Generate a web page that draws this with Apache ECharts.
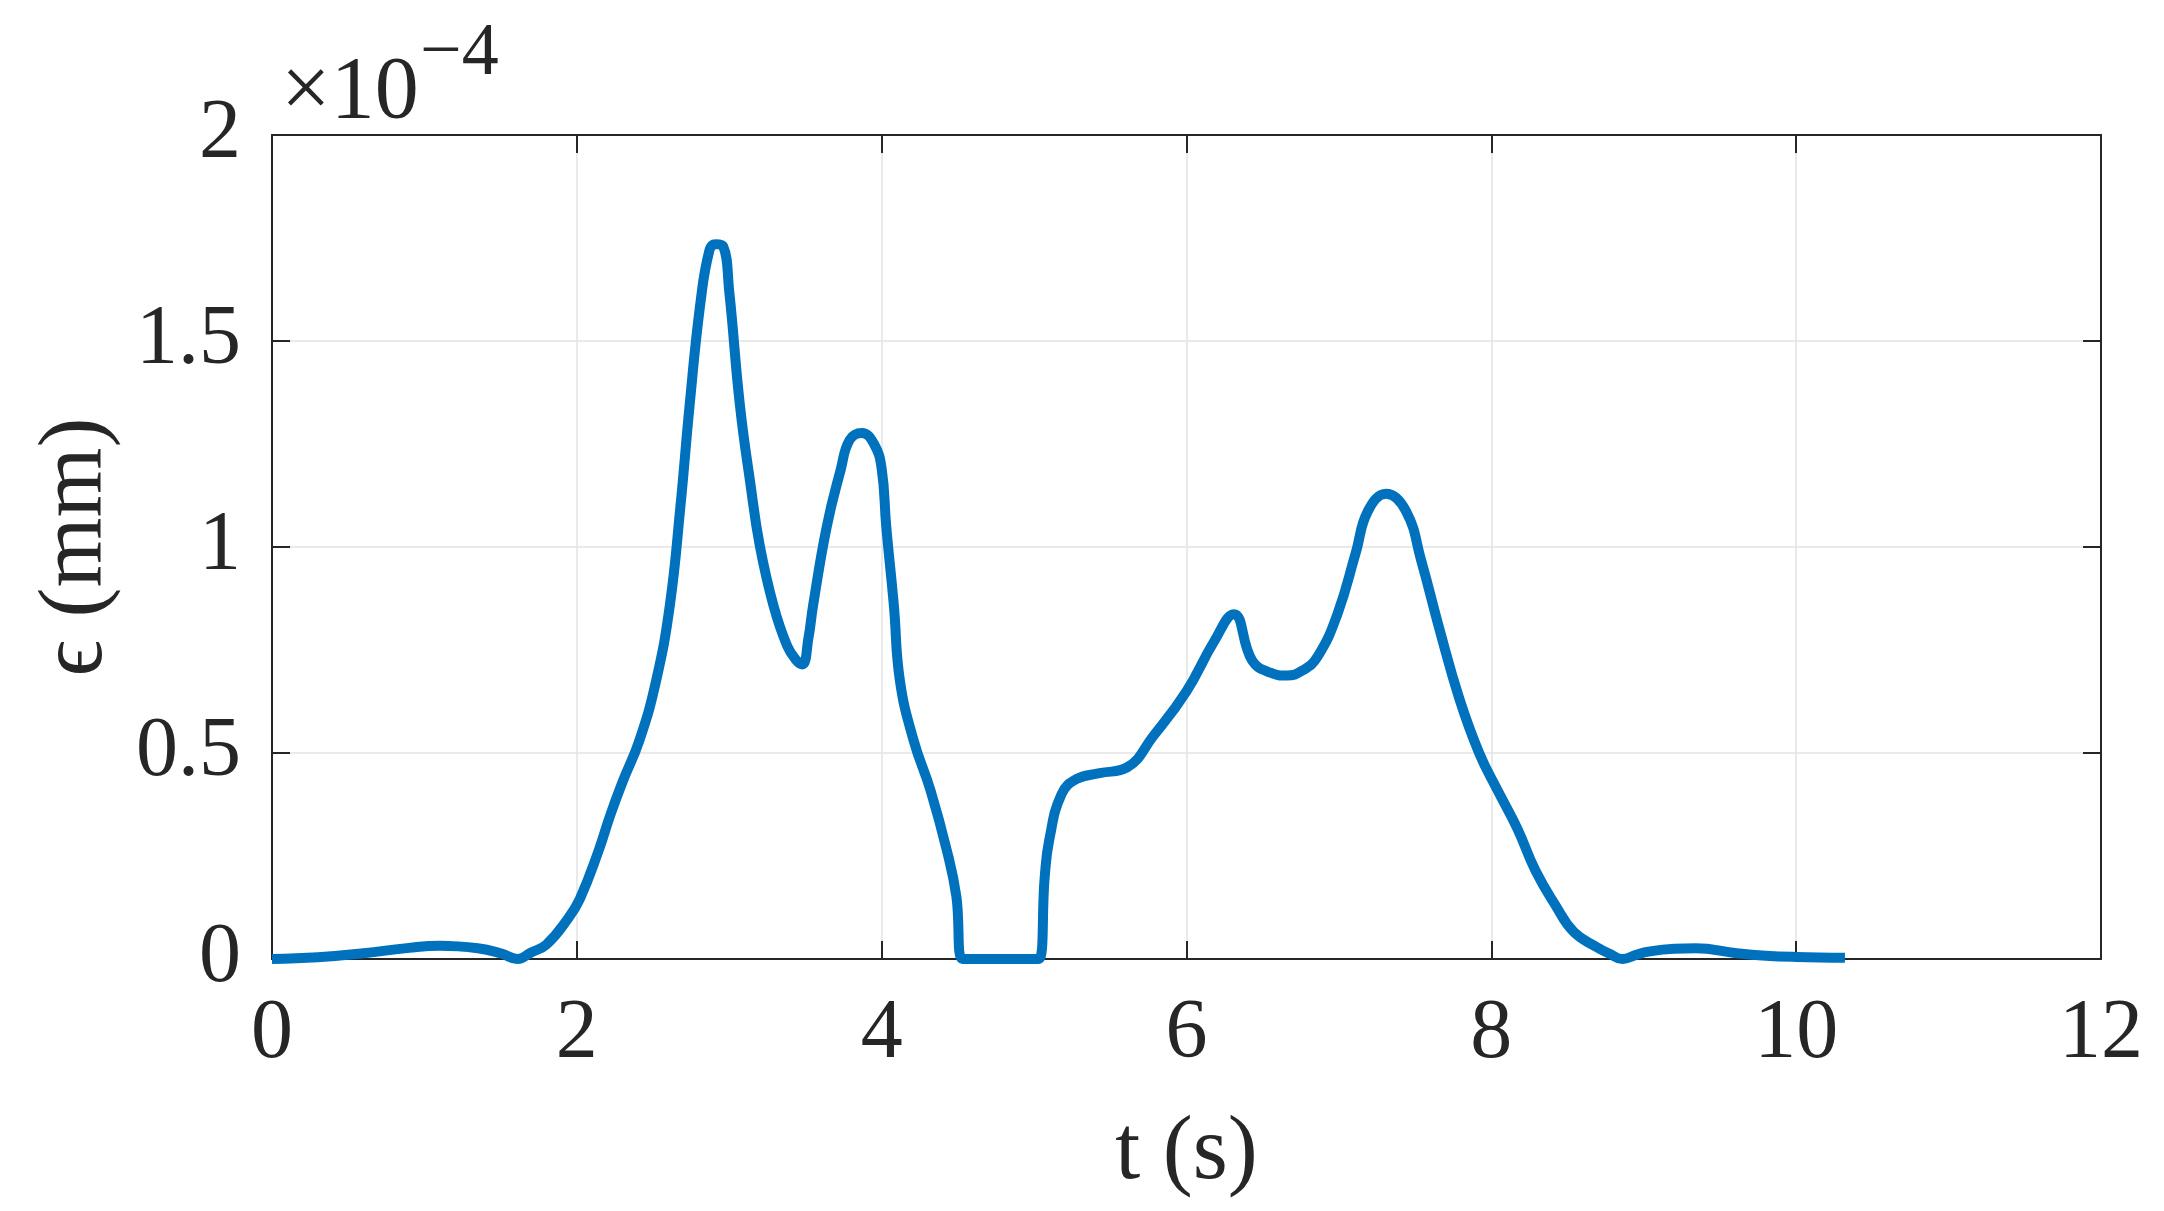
<!DOCTYPE html>
<html>
<head>
<meta charset="utf-8">
<script src="https://cdn.jsdelivr.net/npm/echarts@6/dist/echarts.min.js"></script>
<style>
html,body{margin:0;padding:0;background:#fff;}
#chart{width:2164px;height:1211px;}
</style>
</head>
<body>
<div id="chart"></div>
<script>
// time (s)
const tValues = [0, 0.3, 0.6, 0.9, 1.1, 1.35, 1.5, 1.61, 1.7, 1.8, 1.94, 2.02, 2.14, 2.22, 2.3, 2.41, 2.52, 2.61, 2.68, 2.74, 2.81, 2.87, 2.91, 2.96, 3.0, 3.07, 3.14, 3.2, 3.29, 3.38, 3.44, 3.48, 3.52, 3.55, 3.64, 3.73, 3.79, 3.87, 3.95, 4.0, 4.03, 4.08, 4.12, 4.21, 4.32, 4.43, 4.49, 4.53, 4.7, 4.9, 5.03, 5.07, 5.1, 5.18, 5.28, 5.43, 5.61, 5.78, 6.0, 6.18, 6.31, 6.43, 6.55, 6.66, 6.76, 6.86, 6.99, 7.11, 7.19, 7.31, 7.44, 7.54, 7.66, 7.79, 7.92, 8.04, 8.17, 8.29, 8.42, 8.54, 8.69, 8.78, 8.86, 8.95, 9.03, 9.2, 9.34, 9.61, 9.8, 10.0, 10.32];
// epsilon (mm), in units of 1e-4
const epsValues = [0, 0.004, 0.014, 0.027, 0.032, 0.026, 0.014, 0, 0.016, 0.035, 0.097, 0.146, 0.26, 0.35, 0.43, 0.53, 0.675, 0.858, 1.10, 1.344, 1.59, 1.72, 1.735, 1.73, 1.62, 1.344, 1.15, 1.004, 0.858, 0.76, 0.725, 0.715, 0.78, 0.858, 1.05, 1.186, 1.26, 1.277, 1.25, 1.19, 1.05, 0.858, 0.675, 0.53, 0.41, 0.26, 0.152, 0, 0, 0, 0, 0.2, 0.29, 0.40, 0.437, 0.451, 0.465, 0.54, 0.65, 0.77, 0.837, 0.725, 0.695, 0.688, 0.70, 0.734, 0.837, 0.985, 1.087, 1.129, 1.087, 0.967, 0.80, 0.632, 0.50, 0.41, 0.317, 0.214, 0.131, 0.066, 0.029, 0.012, 0, 0.01, 0.018, 0.025, 0.026, 0.014, 0.008, 0.005, 0.003];
const xTicks = {min: 0, max: 12, step: 2};
const yTicks = {min: 0, max: 2, step: 0.5};
const xTitle = 't (s)';
const yTitle = 'ϵ (mm)';
const yExpBase = '×10';
const yExpPower = '−4';

const seriesData = tValues.map((t, i) => [t, epsValues[i]]);

const FONT = '"Liberation Serif", "Times New Roman", serif';
const AX = '#262626';
const G = {left: 272, top: 135, width: 1829, height: 824};

const chart = echarts.init(document.getElementById('chart'), null, {renderer: 'canvas'});
const axisLineCommon = {show: true, onZero: false, lineStyle: {color: AX, width: 2}};
const tickCommon = {show: true, inside: true, length: 18, lineStyle: {color: AX, width: 2}};

chart.setOption({
  animation: false,
  backgroundColor: '#ffffff',
  grid: {left: G.left, top: G.top, width: G.width, height: G.height, containLabel: false},
  xAxis: [{
    type: 'value', min: xTicks.min, max: xTicks.max, interval: xTicks.step,
    position: 'bottom',
    axisLine: axisLineCommon, axisTick: tickCommon,
    axisLabel: {color: AX, fontFamily: FONT, fontSize: 84, margin: 34},
    splitLine: {show: true, lineStyle: {color: '#e3e3e3', width: 1.5}},
    name: xTitle, nameLocation: 'middle', nameGap: 150,
    nameTextStyle: {color: AX, fontFamily: FONT, fontSize: 90}
  }, {
    type: 'value', min: xTicks.min, max: xTicks.max, interval: xTicks.step,
    position: 'top',
    axisLine: axisLineCommon, axisTick: tickCommon,
    axisLabel: {show: false}, splitLine: {show: false}
  }],
  yAxis: [{
    type: 'value', min: yTicks.min, max: yTicks.max, interval: yTicks.step,
    position: 'left',
    axisLine: axisLineCommon, axisTick: tickCommon,
    axisLabel: {color: AX, fontFamily: FONT, fontSize: 84, margin: 31},
    splitLine: {show: true, lineStyle: {color: '#e3e3e3', width: 1.5}},
    name: yTitle, nameLocation: 'middle', nameGap: 150, nameRotate: 90,
    nameTextStyle: {color: AX, fontFamily: FONT, fontSize: 90}
  }, {
    type: 'value', min: yTicks.min, max: yTicks.max, interval: yTicks.step,
    position: 'right',
    axisLine: axisLineCommon, axisTick: tickCommon,
    axisLabel: {show: false}, splitLine: {show: false}
  }],
  graphic: [
    {type: 'text', left: 281, top: 50, style: {text: yExpBase, fill: AX, font: '88px ' + FONT}},
    {type: 'text', left: 420, top: 18, style: {text: yExpPower, fill: AX, font: '74px ' + FONT}}
  ],
  series: [{
    type: 'line', xAxisIndex: 0, yAxisIndex: 0,
    data: seriesData, showSymbol: false, smooth: 0.45,
    lineStyle: {color: '#0072BD', width: 10, join: 'round', cap: 'butt'},
    clip: true
  }]
});
</script>
</body>
</html>
